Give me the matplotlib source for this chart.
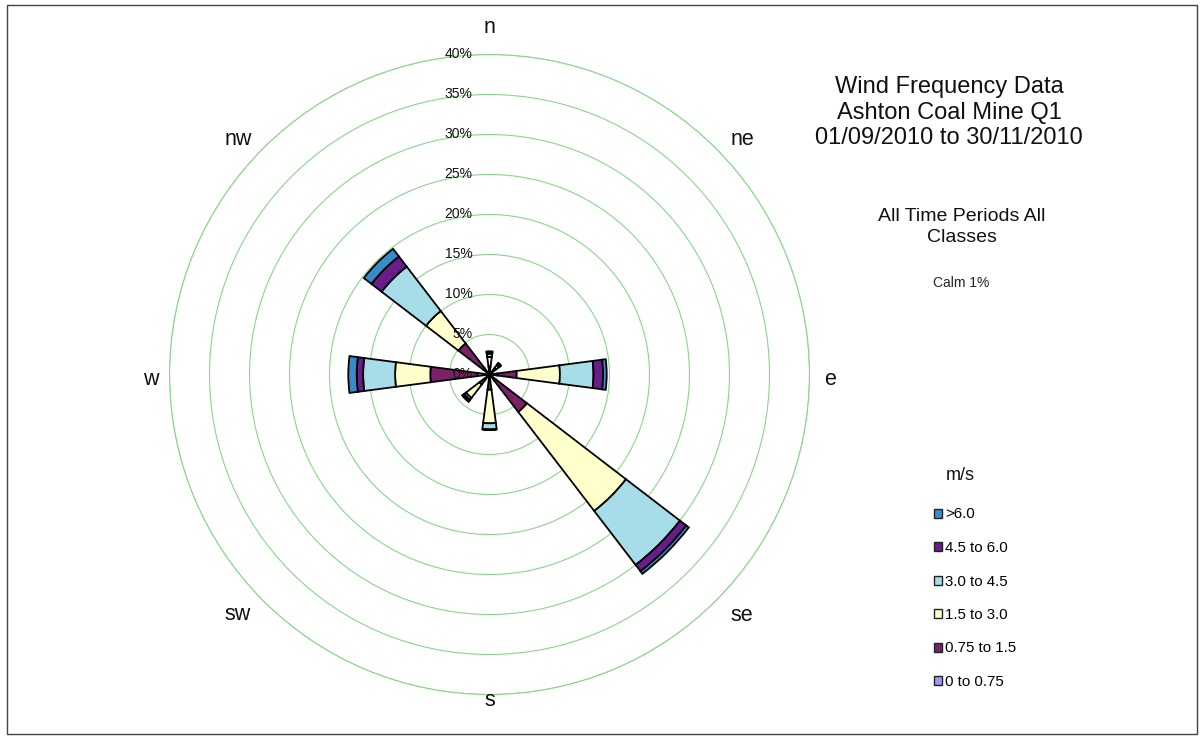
import numpy as np
import matplotlib
matplotlib.use('Agg')
import matplotlib.pyplot as plt
from matplotlib.transforms import offset_copy
from matplotlib.patches import Rectangle, Patch

plt.rcParams['font.family'] = ['Liberation Sans', 'DejaVu Sans']

# ---- data ----
directions = ['n', 'ne', 'e', 'se', 's', 'sw', 'w', 'nw']
dir_angles = [0, 45, 90, 135, 180, 225, 270, 315]
speed_classes = ['0 to 0.75', '0.75 to 1.5', '1.5 to 3.0', '3.0 to 4.5', '4.5 to 6.0', '>6.0']
class_colors = ['#9999FF', '#7B2168', '#FFFFCC', '#A6DDE8', '#6A1C8A', '#3A8CC8']

freq_0_075 = [0.3, 0.3, 1.0, 1.0, 0.5, 0.3, 1.5, 1.0]
freq_075_15 = [0.7, 0.7, 2.4, 4.9, 1.4, 1.3, 5.9, 3.9]
freq_15_30 = [1.2, 0.5, 5.4, 15.6, 4.2, 2.1, 4.4, 5.1]
freq_30_45 = [0.4, 0.2, 4.2, 8.5, 0.8, 0.3, 4.0, 7.0]
freq_45_60 = [0.2, 0.1, 1.2, 1.0, 0.0, 0.2, 0.8, 1.6]
freq_gt_60 = [0.1, 0.0, 0.45, 0.4, 0.0, 0.1, 1.05, 1.2]
class_freqs = [freq_0_075, freq_075_15, freq_15_30, freq_30_45, freq_45_60, freq_gt_60]

ring_values = [0, 5, 10, 15, 20, 25, 30, 35, 40]
calm_pct = 1

# direction label placement (angle deg, radius in % units)
label_angles = [0, 47.1, 90.9, 133.6, 180, 226.3, 269.1, 313]
label_radii = [43.4, 43.1, 42.6, 43.6, 40.7, 43.5, 42.4, 43.0]

# ---- figure ----
W, H = 1204, 738
fig = plt.figure(figsize=(W / 100, H / 100), dpi=100)
cx, cy, R = 489.5, 374.5, 320
ax = fig.add_axes([(cx - R) / W, (H - cy - R) / H, 2 * R / W, 2 * R / H], projection='polar')
ax.set_theta_zero_location('N')
ax.set_theta_direction(-1)

theta = np.deg2rad(dir_angles)
width = np.deg2rad(15)
bottom = np.zeros(len(directions))
handles = []
for name, color, vals in zip(speed_classes, class_colors, class_freqs):
    vals = np.array(vals)
    ax.bar(theta, vals, width=width, bottom=bottom, color=color,
           edgecolor='black', linewidth=1.3, zorder=3, align='center')
    handles.append(Patch(facecolor=color, edgecolor='#222222', linewidth=1.0, label=name))
    bottom = bottom + vals

ax.set_ylim(0, 40)
ax.set_yticks(ring_values[1:])
ax.set_yticklabels([])
ax.set_xticks([])
ax.yaxis.grid(True, color='#8AD68A', linewidth=0.8)
ax.xaxis.grid(False)
ax.spines['polar'].set_color('#8AD68A')
ax.spines['polar'].set_linewidth(0.8)
ax.set_facecolor('none')

# ring labels
tr = offset_copy(ax.transData, fig=fig, x=-17, y=0, units='dots')
for r in ring_values:
    ax.text(0, r, f'{r}%', transform=tr, ha='right', va='center', fontsize=10,
            color='#111111', zorder=6)

# direction labels
for d, a, r in zip(directions, label_angles, label_radii):
    ax.text(np.deg2rad(a), r, d, ha='center', va='center', fontsize=15.5,
            color='#111111', clip_on=False)

# title texts
title_lines = ['Wind Frequency Data', 'Ashton Coal Mine Q1', '01/09/2010 to 30/11/2010']
title_y = [86.7, 113, 138.5]
for t, y in zip(title_lines, title_y):
    fig.text(949 / W, 1 - y / H, t, ha='center', va='center', fontsize=17, color='#111111')

sub_lines = ['All Time Periods All', 'Classes']
sub_y = [216.5, 238]
for t, y in zip(sub_lines, sub_y):
    fig.text(962 / W, 1 - y / H, t, ha='center', va='center', fontsize=14, color='#111111')

fig.text(961 / W, 1 - 283 / H, f'Calm {calm_pct}%', ha='center', va='center', fontsize=10, color='#222222')

fig.text(960 / W, 1 - 476 / H, 'm/s', ha='center', va='center', fontsize=13, color='#111111')
leg = fig.legend(handles[::-1], [h.get_label() for h in handles[::-1]],
                 loc='upper left', bbox_to_anchor=(926 / W, 1 - 500 / H),
                 frameon=False, fontsize=10.8, handlelength=0.55, handleheight=0.55,
                 handletextpad=0.2, labelspacing=1.3, borderpad=0)

fig.patches.append(Rectangle((7 / W, 4 / H), (W - 14) / W, (H - 9) / H, transform=fig.transFigure,
                             fill=False, edgecolor='#444444', linewidth=1.0))

fig.savefig('out.png', dpi=100, facecolor='white')
